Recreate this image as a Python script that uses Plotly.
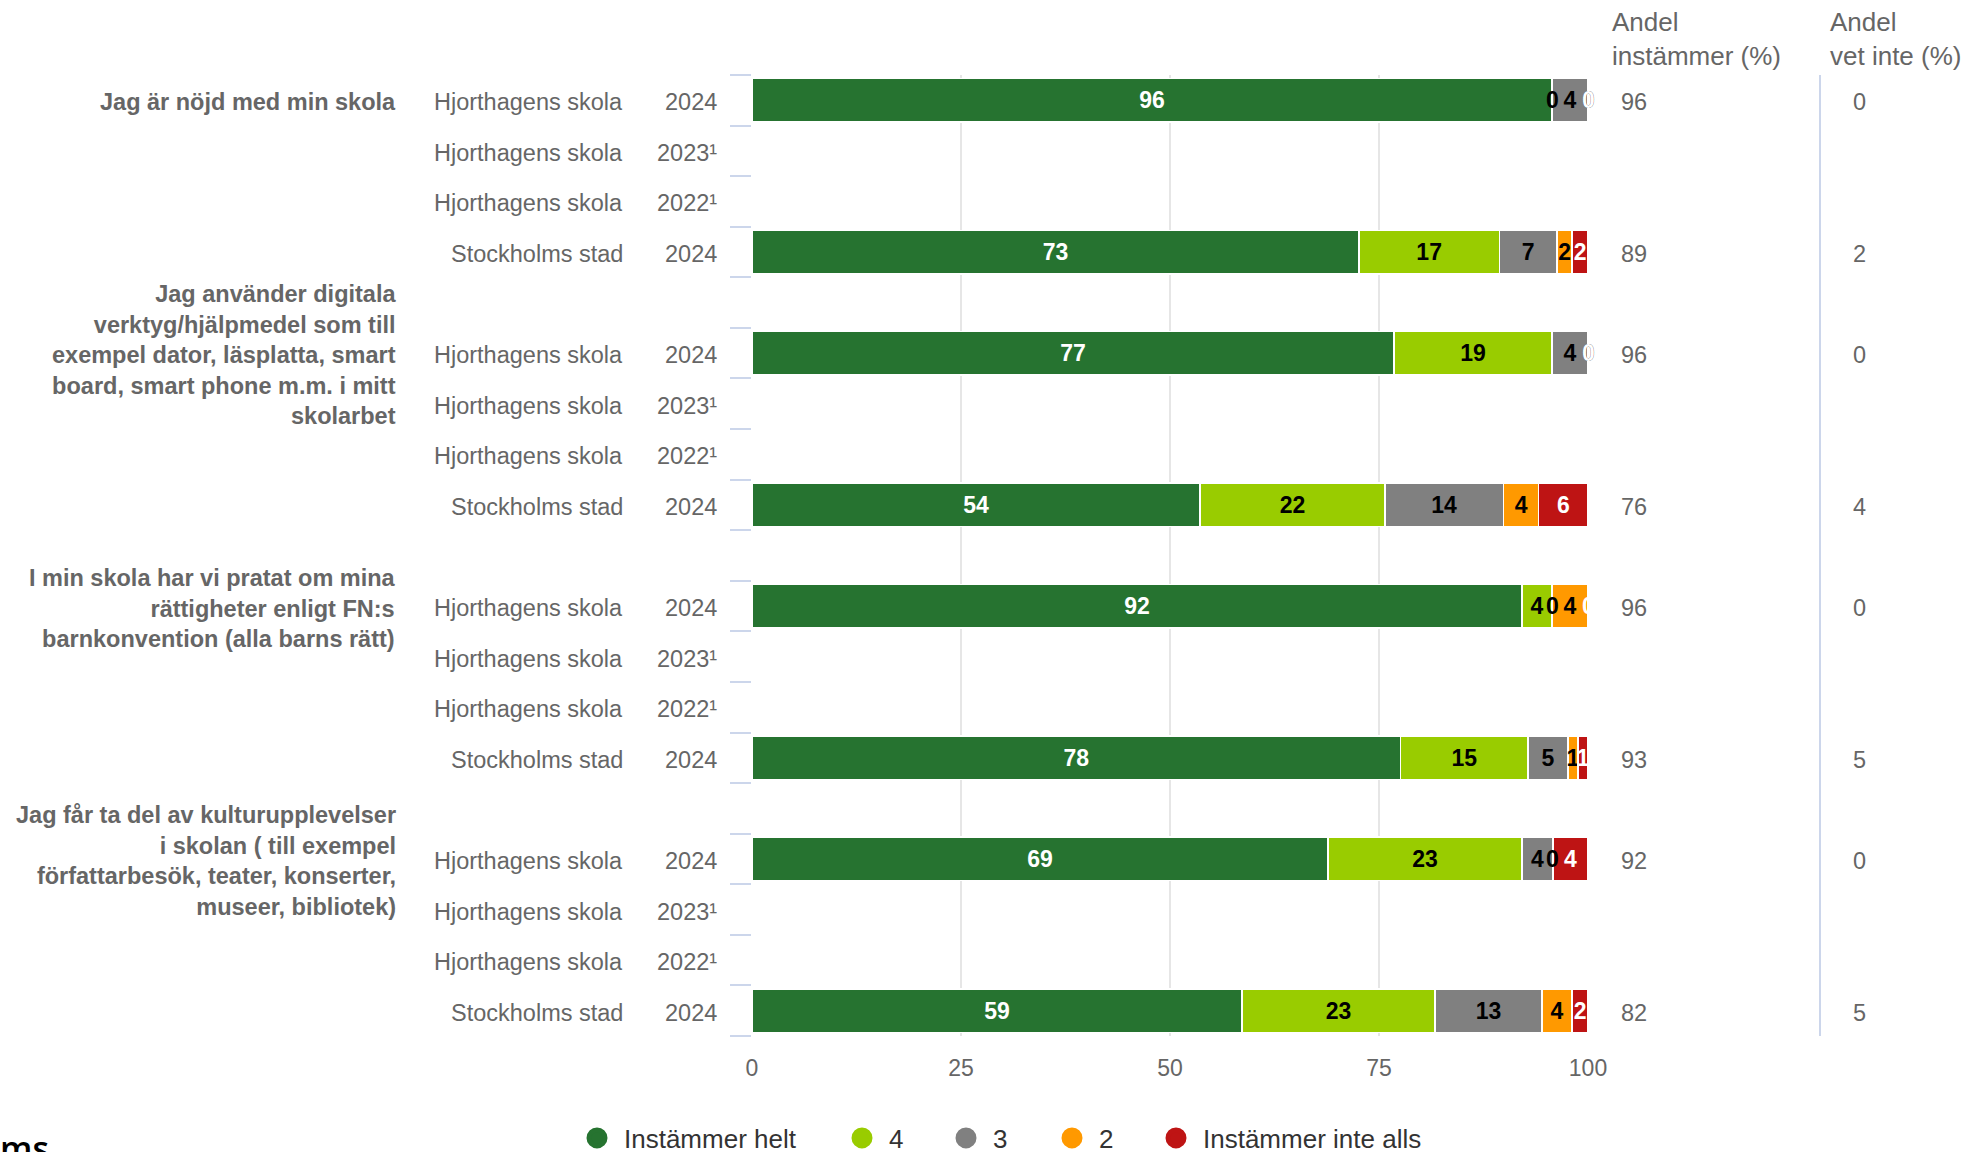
import plotly.graph_objects as go

# ---------------- data ----------------
questions = [
    "Jag är nöjd med min skola",
    "Jag använder digitala<br>verktyg/hjälpmedel som till<br>exempel dator, läsplatta, smart<br>board, smart phone m.m. i mitt<br>skolarbet",
    "I min skola har vi pratat om mina<br>rättigheter enligt FN:s<br>barnkonvention (alla barns rätt)",
    "Jag får ta del av kulturupplevelser<br>i skolan ( till exempel<br>författarbesök, teater, konserter,<br>museer, bibliotek)",
]
schools = ["Hjorthagens skola", "Hjorthagens skola", "Hjorthagens skola", "Stockholms stad"]
years = ["2024", "2023¹", "2022¹", "2024"]

series_names = ["Instämmer helt", "4", "3", "2", "Instämmer inte alls"]
series_colors = ["#267330", "#99CC00", "#808080", "#FF9900", "#BE1414"]
label_colors = ["#FFFFFF", "#000000", "#000000", "#000000", "#FFFFFF"]

instammer_helt = [95.7, None, None, 72.6, 76.8, None, None, 53.6, 92.1, None, None, 77.6, 68.9, None, None, 58.6]
varde_4 = [0, None, None, 16.8, 18.9, None, None, 22.1, 3.6, None, None, 15.2, 23.2, None, None, 23.1]
varde_3 = [4.3, None, None, 6.9, 4.3, None, None, 14.2, 0, None, None, 4.8, 3.7, None, None, 12.8]
varde_2 = [0, None, None, 1.8, 0, None, None, 4.2, 4.3, None, None, 1.2, 0, None, None, 3.6]
instammer_inte_alls = [0, None, None, 1.9, 0, None, None, 5.9, 0, None, None, 1.2, 4.2, None, None, 1.9]

andel_instammer = [96, None, None, 89, 96, None, None, 76, 96, None, None, 93, 92, None, None, 82]
andel_vet_inte = [0, None, None, 2, 0, None, None, 4, 0, None, None, 5, 0, None, None, 5]

header_instammer = "Andel<br>instämmer (%)"
header_vet_inte = "Andel<br>vet inte (%)"
x_ticks = [0, 25, 50, 75, 100]

# ---------------- layout helpers ----------------
series_values = [instammer_helt, varde_4, varde_3, varde_2, instammer_inte_alls]
ROWS = len(schools)
STEP = ROWS + 1
positions = [g * STEP + r for g in range(len(questions)) for r in range(ROWS)]
n_slots = len(questions) * STEP - 1   # 19 category slots (incl. spacer slots)

W, H = 1970, 1152
ML, MR, MT, MB = 752, 382, 75, 116
PW = W - ML - MR
PH = H - MT - MB


def px_x(px):
    return (px - ML) / PW


def px_y(py):
    return (H - MB - py) / PH


FONT = "Liberation Sans, Arial, sans-serif"
GRAY = "#666666"
TXT_SHIFT = -2

fig = go.Figure()

for name, vals, col, lcol in zip(series_names, series_values, series_colors, label_colors):
    fig.add_trace(go.Bar(
        x=vals, y=positions, orientation="h", width=0.86,
        marker=dict(color=col, line=dict(color="#FFFFFF", width=1.5)),
        text=[(f"{v:.0f}" if v else None) for v in vals],
        texttemplate="%{text}",
        textposition="inside", insidetextanchor="middle", textangle=0,
        constraintext="none",
        textfont=dict(family=FONT, size=23, color=lcol, weight="bold"),
        showlegend=False, hoverinfo="skip", name=name,
    ))

# legend entries (circle symbols), one small legend per entry for exact spacing
legend_centers_px = [597, 862, 966, 1072, 1176]
legend_ids = ["legend", "legend2", "legend3", "legend4", "legend5"]
for name, col, lid in zip(series_names, series_colors, legend_ids):
    fig.add_trace(go.Scatter(
        x=[None], y=[None], mode="markers", name=name, legend=lid,
        marker=dict(size=16, color=col, symbol="circle", line=dict(color=col, width=5)),
        showlegend=True, hoverinfo="skip",
    ))

annotations = []

# labels for zero-valued segments (drawn at their stacked position)
for idx, pos in enumerate(positions):
    cum = 0.0
    if instammer_helt[idx] is None:
        continue
    for vals, lcol in zip(series_values, label_colors):
        v = vals[idx]
        if v == 0:
            annotations.append(dict(
                x=cum, y=pos, xref="x", yref="y", text="0", showarrow=False,
                font=dict(family=FONT, size=23, color=lcol, weight="bold"),
            ))
        cum += v

# category label columns
for idx, pos in enumerate(positions):
    r = idx % ROWS
    annotations.append(dict(x=px_x(719), y=pos, xref="paper", yref="y", text=years[r],
                            xanchor="right", showarrow=False, yshift=TXT_SHIFT,
                            font=dict(family=FONT, size=23.5, color=GRAY)))
    annotations.append(dict(x=px_x(625), y=pos, xref="paper", yref="y", text=schools[r],
                            xanchor="right", showarrow=False, yshift=TXT_SHIFT,
                            font=dict(family=FONT, size=23.5, color=GRAY)))
    if andel_instammer[idx] is not None:
        annotations.append(dict(x=px_x(1634), y=pos, xref="paper", yref="y",
                                text=str(andel_instammer[idx]), xanchor="center", showarrow=False,
                                yshift=TXT_SHIFT, font=dict(family=FONT, size=23.5, color=GRAY)))
    if andel_vet_inte[idx] is not None:
        annotations.append(dict(x=px_x(1859), y=pos, xref="paper", yref="y",
                                text=str(andel_vet_inte[idx]), xanchor="center", showarrow=False,
                                yshift=TXT_SHIFT, font=dict(family=FONT, size=23.5, color=GRAY)))

for g, q in enumerate(questions):
    annotations.append(dict(x=px_x(398), y=g * STEP, xref="paper", yref="y", text=q,
                            xanchor="right", yanchor="middle", align="right", showarrow=False,
                            yshift=TXT_SHIFT,
                            font=dict(family=FONT, size=23.5, color=GRAY, weight="bold")))

# column headers
annotations.append(dict(x=px_x(1610), y=px_y(39.5), xref="paper", yref="paper", text=header_instammer,
                        xanchor="left", yanchor="middle", align="left", showarrow=False,
                        font=dict(family=FONT, size=26, color=GRAY)))
annotations.append(dict(x=px_x(1828), y=px_y(39.5), xref="paper", yref="paper", text=header_vet_inte,
                        xanchor="left", yanchor="middle", align="left", showarrow=False,
                        font=dict(family=FONT, size=26, color=GRAY)))

# clipped logo text at bottom left
annotations.append(dict(x=px_x(-2), y=px_y(1123), xref="paper", yref="paper", text="ms",
                        xanchor="left", yanchor="top", showarrow=False,
                        font=dict(family="Open Sans, sans-serif", size=34, color="#000000", weight=600)))

shapes = [
    dict(type="line", xref="paper", yref="paper", x0=px_x(1820), x1=px_x(1820),
         y0=0, y1=px_y(75), line=dict(color="#ccd6eb", width=2)),
]

legend_layouts = {}
for lid, cx in zip(legend_ids, legend_centers_px):
    legend_layouts[lid] = dict(
        orientation="h", x=px_x(cx - 27), xanchor="left", y=px_y(1138), yanchor="middle",
        font=dict(family=FONT, size=26, color="#333333"),
        itemwidth=44, bgcolor="rgba(0,0,0,0)", traceorder="normal",
    )

fig.update_layout(
    width=W, height=H,
    margin=dict(l=ML, r=MR, t=MT, b=MB, autoexpand=False),
    paper_bgcolor="#FFFFFF", plot_bgcolor="#FFFFFF",
    barmode="stack",
    font=dict(family=FONT, color=GRAY),
    annotations=annotations,
    shapes=shapes,
    showlegend=True,
    xaxis=dict(
        range=[0, 100], tickvals=x_ticks, showgrid=True, gridcolor="#e6e6e6", gridwidth=2,
        zeroline=False, showline=False, ticks="", ticklabelstandoff=16,
        tickfont=dict(family=FONT, size=23, color=GRAY), fixedrange=True,
    ),
    yaxis=dict(
        range=[n_slots - 0.5, -0.5], tickvals=positions, showticklabels=False, ticks="",
        showgrid=False, zeroline=False, showline=False,
        minor=dict(tickmode="array", tickvals=[k - 0.5 for k in range(n_slots + 1)],
                   ticks="outside", ticklen=21, tickwidth=2, tickcolor="#ccd6eb", showgrid=False),
        fixedrange=True,
    ),
    **legend_layouts,
)

fig.write_html("out.html", config={"displayModeBar": False},
               post_script="document.body.style.margin='0px';")
